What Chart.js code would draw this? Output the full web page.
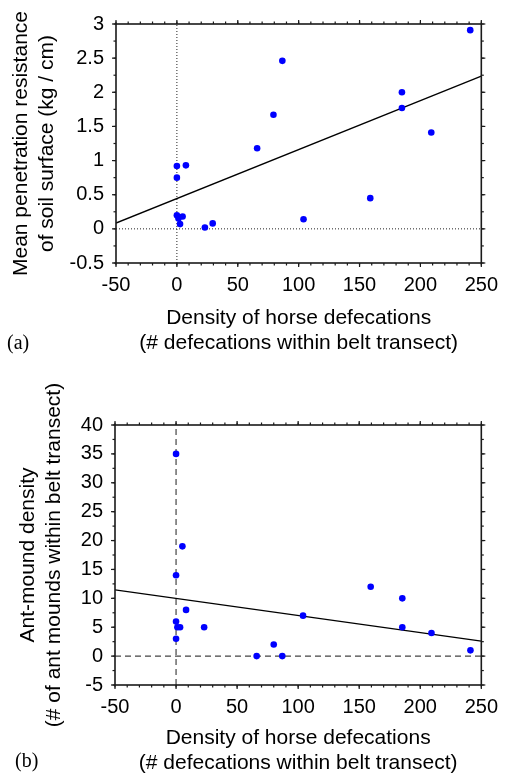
<!DOCTYPE html>
<html><head><meta charset="utf-8">
<script src="https://cdn.jsdelivr.net/npm/chart.js@4"></script>
<style>
html,body{margin:0;padding:0;background:#fff;}
#wrap{position:relative;width:508px;height:776px;overflow:hidden;background:#fff;}
canvas{position:absolute;left:0;}
#cA{top:0;}
#cB{top:376px;}
.lab{position:absolute;font-family:"Liberation Serif","Times New Roman",serif;font-size:20px;line-height:24px;color:#000;}
</style></head><body>
<div id="wrap">
<canvas id="cA" width="508" height="376"></canvas>
<canvas id="cB" width="508" height="400"></canvas>
<div class="lab" style="left:7px;top:330px">(a)</div>
<div class="lab" style="left:15px;top:748px">(b)</div>
</div>
<script>
// ---- data (a) ----
const defecationsA = [0, 0, 0, 1.3, 2.6, 4.7, 7.4, 23, 29.4, 65.9, 79.3, 86.6, 104, 158.8, 184.8, 184.8, 208.9, 240.9];
const resistanceA  = [0.92, 0.75, 0.20, 0.15, 0.07, 0.18, 0.93, 0.02, 0.08, 1.18, 1.67, 2.46, 0.14, 0.45, 2.00, 1.77, 1.41, 2.91];
// ---- data (b) ----
const defecationsB = [0, 0, 0, 0, 1.1, 3.3, 5.2, 8.2, 23, 66, 80, 87, 104, 159.4, 185.3, 185.3, 209.2, 241.1];
const moundsB      = [35, 14, 6, 3, 5, 5, 19, 8, 5, 0, 2, 0, 7, 12, 10, 5, 4, 1];
// ---- fitted regression lines (endpoints) ----
const fitX  = [-50, 250];
const fitYA = [0.085, 2.237];
const fitYB = [11.45, 2.6];
// ---- axis ranges and tick labels ----
const xRange  = [-50, 250];
const yRangeA = [-0.5, 3];
const yRangeB = [-5, 40];
const xTickLabels  = ['-50', '0', '50', '100', '150', '200', '250'];
const yTickLabelsA = ['-0.5', '0', '0.5', '1', '1.5', '2', '2.5', '3'];
const yTickLabelsB = ['-5', '0', '5', '10', '15', '20', '25', '30', '35', '40'];
const xTitle  = ['Density of horse defecations', '(# defecations within belt transect)'];
const yTitleA = ['Mean penetration resistance', 'of soil surface (kg / cm)'];
const yTitleB = ['Ant-mound density', '(# of ant mounds within belt transect)'];

Chart.defaults.font.family = '"Liberation Sans", Arial, Helvetica, sans-serif';
Chart.defaults.color = '#000';

const toPts = (xs, ys) => xs.map((x, i) => ({x: x, y: ys[i]}));

const framePlugin = {
  id: 'frame',
  afterDraw(chart, args, opts) {
    const ctx = chart.ctx;
    const a = chart.chartArea;
    const xs = chart.scales.x, ys = chart.scales.y;
    ctx.save();
    ctx.strokeStyle = '#1a1a1a';
    ctx.lineWidth = 1.6;
    ctx.strokeRect(a.left, a.top, a.right - a.left, a.bottom - a.top);
    ctx.lineWidth = 1.2;
    const majL = 4, minL = 2.5;
    const tick = (x1, y1, x2, y2) => { ctx.beginPath(); ctx.moveTo(x1, y1); ctx.lineTo(x2, y2); ctx.stroke(); };
    const drawX = (v, len) => {
      const p = xs.getPixelForValue(v);
      tick(p, a.bottom, p, a.bottom + len);
      tick(p, a.top, p, a.top - len);
    };
    const drawY = (v, len) => {
      const p = ys.getPixelForValue(v);
      tick(a.left, p, a.left - len, p);
      tick(a.right, p, a.right + len, p);
    };
    const eps = 1e-9;
    for (let v = xs.min; v <= xs.max + eps; v += opts.xMinor) drawX(v, minL);
    for (let v = ys.min; v <= ys.max + eps; v += opts.yMinor) drawY(v, minL);
    xs.ticks.forEach(t => drawX(t.value, majL));
    ys.ticks.forEach(t => drawY(t.value, majL));
    ctx.restore();
  }
};

function makeChart(id, cfg) {
  const labelFor = (labels) => (value) => {
    const m = labels.find(l => Math.abs(parseFloat(l) - value) < 1e-9);
    return m !== undefined ? m : '';
  };
  return new Chart(document.getElementById(id), {
    type: 'scatter',
    data: {
      datasets: [
        {
          type: 'scatter',
          data: toPts(cfg.xs, cfg.ys),
          backgroundColor: '#0000ff',
          borderColor: '#0000ff',
          pointRadius: 3.3,
          pointBorderWidth: 0,
          pointHoverRadius: 3.3
        },
        {
          type: 'line',
          data: toPts(fitX, cfg.fitY),
          borderColor: '#000',
          borderWidth: 1.3,
          pointRadius: 0,
          fill: false,
          tension: 0
        },
        {
          type: 'line',
          data: [{x: 0, y: cfg.yRange[0]}, {x: 0, y: cfg.yRange[1]}],
          borderColor: cfg.refColor,
          borderWidth: cfg.refWidth,
          borderDash: cfg.refDash,
          pointRadius: 0,
          fill: false
        },
        {
          type: 'line',
          data: [{x: xRange[0], y: 0}, {x: xRange[1], y: 0}],
          borderColor: cfg.refColor,
          borderWidth: cfg.refWidth,
          borderDash: cfg.refDash,
          pointRadius: 0,
          fill: false
        }
      ]
    },
    options: {
      responsive: false,
      animation: false,
      devicePixelRatio: 1,
      layout: {padding: cfg.padding},
      plugins: {
        legend: {display: false},
        tooltip: {enabled: false},
        frame: {xMinor: 10, yMinor: cfg.yMinor}
      },
      scales: {
        x: {
          type: 'linear',
          min: xRange[0], max: xRange[1],
          grid: {display: false, drawTicks: false},
          border: {display: false},
          afterBuildTicks: (s) => { s.ticks = xTickLabels.map(l => ({value: parseFloat(l)})); },
          ticks: {autoSkip: false, maxRotation: 0, padding: 10, font: {size: 20}, callback: labelFor(xTickLabels)},
          title: {display: true, text: xTitle, font: {size: 21, lineHeight: 1.2}, padding: {top: 0, bottom: cfg.xTitlePad}},
          afterFit: (s) => { s.height = cfg.xHeight; }
        },
        y: {
          type: 'linear',
          min: cfg.yRange[0], max: cfg.yRange[1],
          grid: {display: false, drawTicks: false},
          border: {display: false},
          afterBuildTicks: (s) => { s.ticks = cfg.yLabels.map(l => ({value: parseFloat(l)})); },
          ticks: {autoSkip: false, padding: 12, font: {size: 20}, callback: labelFor(cfg.yLabels)},
          title: {display: true, text: cfg.yTitle, font: {size: 21, lineHeight: 1.25}, padding: {top: cfg.yTitlePad, bottom: 0}},
          afterFit: (s) => { s.width = cfg.yWidth; }
        }
      }
    },
    plugins: [framePlugin]
  });
}

makeChart('cA', {
  xs: defecationsA, ys: resistanceA, fitY: fitYA, yRange: yRangeA, yLabels: yTickLabelsA,
  yTitle: yTitleA, yMinor: 0.25,
  refColor: '#222', refWidth: 1, refDash: [1, 2],
  padding: {left: 0, right: 19, top: 14, bottom: 0},
  xHeight: 113, xTitlePad: 20, yWidth: 116, yTitlePad: 8
});

makeChart('cB', {
  xs: defecationsB, ys: moundsB, fitY: fitYB, yRange: yRangeB, yLabels: yTickLabelsB,
  yTitle: yTitleB, yMinor: 2.5,
  refColor: '#444', refWidth: 1.2, refDash: [6, 4],
  padding: {left: 0, right: 24, top: 49, bottom: 0},
  xHeight: 91, xTitlePad: 0, yWidth: 115, yTitlePad: 15
});
</script>
</body></html>
